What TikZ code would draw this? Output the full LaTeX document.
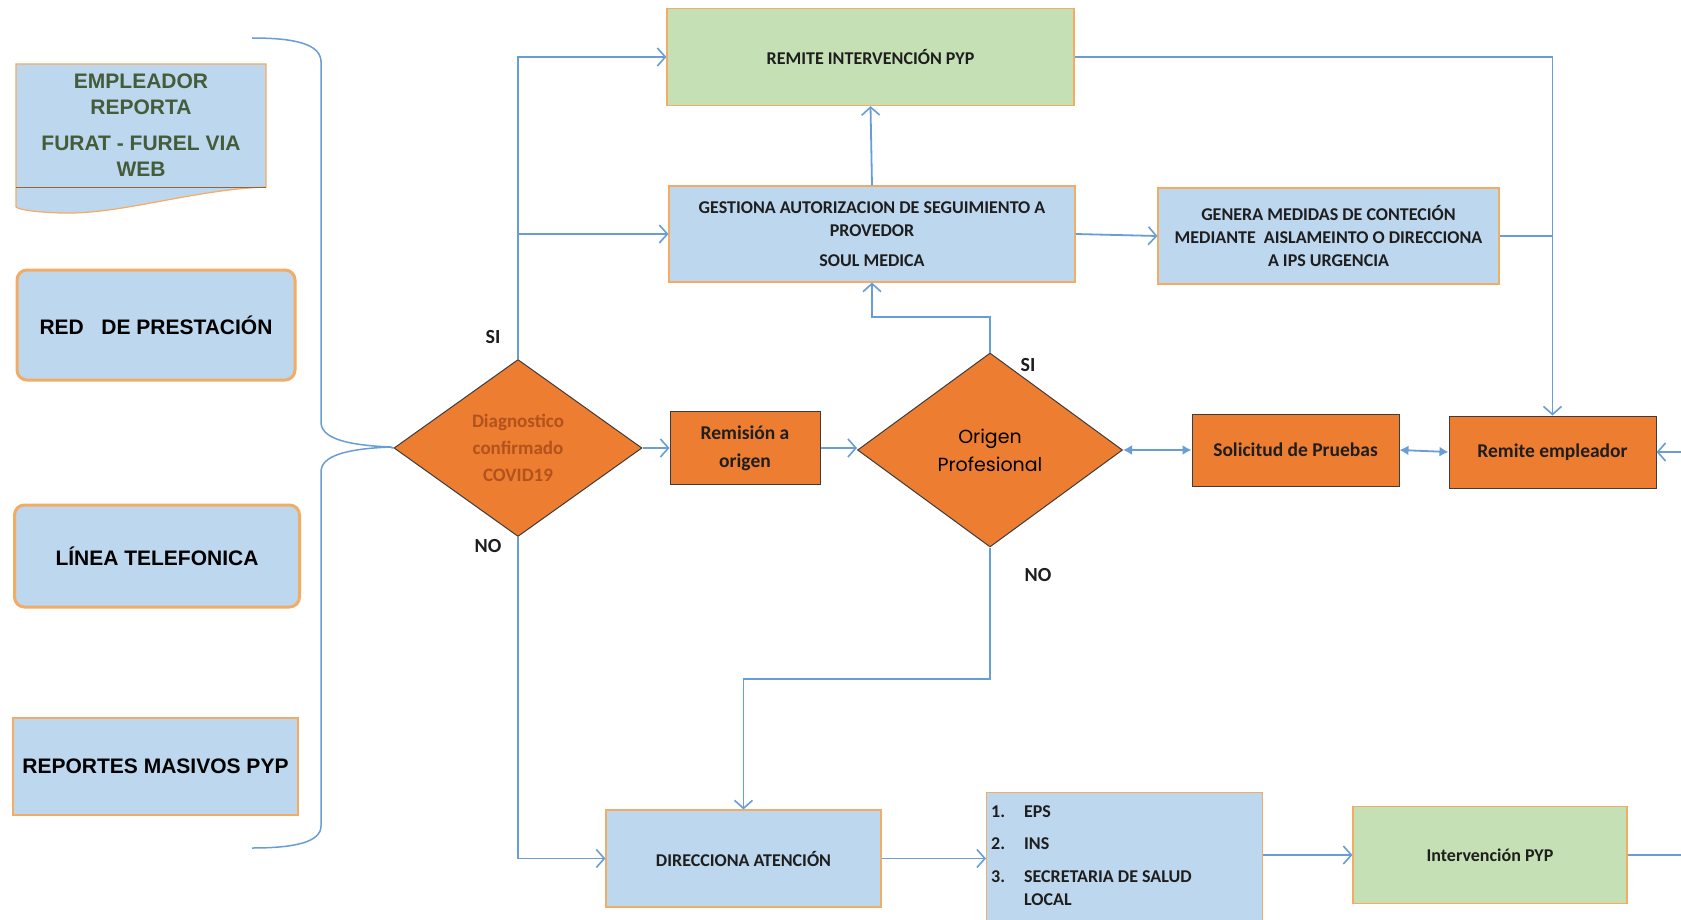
\documentclass[tikz,border=0pt]{standalone}
\usepackage{fontspec}
\setmainfont{Carlito}
\newfontfamily\arialf{Liberation Sans}
\newfontfamily\gothf{Poppins}
\usetikzlibrary{arrows.meta,shapes.geometric,calc}
\definecolor{lineblue}{RGB}{104,157,214}
\definecolor{boxblue}{RGB}{189,215,238}
\definecolor{boxgreen}{RGB}{197,224,180}
\definecolor{boxorange}{RGB}{237,125,49}
\definecolor{edgeorange}{RGB}{243,172,100}
\definecolor{darkedge}{RGB}{60,60,60}
\definecolor{olivetext}{RGB}{68,92,58}
\definecolor{diagtext}{RGB}{178,82,28}
\definecolor{txt}{RGB}{30,30,30}
\begin{document}
\begin{tikzpicture}[x=1pt,y=-1pt,
 conn/.style={draw=lineblue,line width=1.8pt},
 arr/.style={conn,-{Straight Barb[length=8pt,width=18pt,line width=1.6pt]}},
 dbl/.style={conn,{Latex[length=9pt,width=10pt]}-{Latex[length=9pt,width=10pt]}},
 bluebox/.style={draw=edgeorange,line width=1.2pt,fill=boxblue,inner sep=0pt,align=center,text=txt,font=\bfseries\fontsize{18}{23}\selectfont},
 greenbox/.style={bluebox,fill=boxgreen},
 orangebox/.style={draw=darkedge,line width=1pt,fill=boxorange,inner sep=0pt,align=center,text=txt,font=\bfseries\fontsize{19.5}{28}\selectfont},
 decision/.style={diamond,draw=darkedge,line width=1pt,fill=boxorange,inner sep=0pt,align=center},
 leftbox/.style={draw=edgeorange,fill=boxblue,inner sep=0pt,align=center,text=black,font=\arialf\bfseries\fontsize{21}{24}\selectfont},
 lab/.style={font=\bfseries\fontsize{20}{22}\selectfont,text=txt,inner sep=0pt}
]
\useasboundingbox (0,0) rectangle (1681,920);
\clip (0,0) rectangle (1681,920);
\fill[white] (0,0) rectangle (1681,920);

% document shape
\filldraw[fill=boxblue,draw=edgeorange,line width=1.2pt] (16,64) -- (266,64) -- (266,187) .. controls (190,190) and (120,215) .. (60,213) .. controls (35,212) and (20,210) .. (16,207) -- cycle;
\draw[draw=edgeorange!60!black,line width=0.8pt] (16,187) -- (266,187);
\node[align=center,text=olivetext,font=\arialf\bfseries\fontsize{21}{26.5}\selectfont,inner sep=0pt] (emp) at (141,125) {EMPLEADOR\\REPORTA\\[9pt]FURAT - FUREL VIA\\WEB};

\node[leftbox,rounded corners=10pt,line width=3pt,minimum width=278pt,minimum height=110pt] (red) at (156,325) {RED\ \ \ DE PRESTACIÓN};
\node[leftbox,rounded corners=10pt,line width=3pt,minimum width=285pt,minimum height=102pt] (lin) at (157,556) {LÍNEA TELEFONICA};
\node[leftbox,line width=1.2pt,minimum width=285pt,minimum height=97pt] (rep) at (155.5,766.5) {REPORTES MASIVOS PYP};

% brace
\coordinate (tip) at (390,447);
\draw[conn,line width=1.5pt] (252,38) .. controls (295,38) and (321,44) .. (321,62) -- (321,422) .. controls (321,438) and (345,445) .. (tip) .. controls (345,449) and (321,456) .. (321,472) -- (321,826) .. controls (321,842) and (295,848) .. (252,848);

% decisions
\node[decision,minimum width=248pt,minimum height=177pt,text=diagtext,font=\bfseries\fontsize{19}{27}\selectfont] (d1) at (518,448) {Diagnostico\\confirmado\\COVID19};
\node[decision,minimum width=265pt,minimum height=194pt,text=black,font=\gothf\fontsize{19}{28}\selectfont] (orig) at (990,450) {Origen\\Profesional};

% orange boxes
\node[orangebox,minimum width=150pt,minimum height=73pt] (rem) at (745,448) {Remisión a\\origen};
\node[orangebox,minimum width=207pt,minimum height=72pt] (solic) at (1295.5,450) {Solicitud de Pruebas};
\node[orangebox,minimum width=207pt,minimum height=72pt] (remp) at (1552.5,452) {Remite empleador};

% blue / green boxes
\node[greenbox,minimum width=407pt,minimum height=97pt] (remint) at (870.5,57) {REMITE INTERVENCIÓN PYP};
\node[bluebox,minimum width=406pt,minimum height=96pt] (gest) at (872,234) {GESTIONA AUTORIZACION DE SEGUIMIENTO A\\PROVEDOR\\[7pt]SOUL MEDICA};
\node[bluebox,minimum width=341pt,minimum height=96pt] (gen) at (1328.5,236) {GENERA MEDIDAS DE CONTECIÓN\\MEDIANTE\ \ AISLAMEINTO O DIRECCIONA\\A IPS URGENCIA};
\node[bluebox,minimum width=275pt,minimum height=97pt] (direc) at (743.5,858.5) {DIRECCIONA ATENCIÓN};
\node[bluebox,minimum width=276pt,minimum height=160pt,anchor=north west] (lista) at (986,792) {};
\node[anchor=north west,inner sep=0pt,font=\bfseries\fontsize{18}{23}\selectfont,text=txt,align=left] (listtxt) at (991,801) {\begin{tabular}{@{}l@{\hspace{19pt}}l@{}}1. & EPS\\[9pt] 2. & INS\\[10pt] 3. & SECRETARIA DE SALUD\\ & LOCAL\end{tabular}};
\node[greenbox,minimum width=274pt,minimum height=97pt] (interv) at (1490,855) {Intervención PYP};

% labels
\node[lab] (si1) at (493,337) {SI};
\node[lab] (no1) at (488,546) {NO};
\node[lab] (si2) at (1028,365) {SI};
\node[lab] (no2) at (1038,575) {NO};

% connectors
\draw[conn] (tip) -- (d1.west);
\draw[arr] (d1.north) |- (remint.west);
\draw[arr] (d1.north |- gest.west) -- (gest.west);
\draw[arr] (d1.east) -- (rem.west);
\draw[arr] (rem.east) -- (rem.east -| orig.west);
\draw[arr] (orig.north) -- (orig.north |- 0,317) -| (gest.south);
\draw[arr] (gest.north) -- (remint.south);
\draw[arr] (gest.east) -- (gen.west);
\draw[arr] (remint.east) -| (remp.north);
\draw[conn] (gen.east) -- (gen.east -| remp.north);
\draw[dbl] (orig.east) -- (solic.west);
\draw[dbl] (solic.east) -- (remp.west);
\coordinate (rin) at (1681,452);
\draw[arr] (rin) -- (remp.east);
\draw[arr] (d1.south) |- (direc.west);
\draw[arr] (orig.south) -- (orig.south |- 0,679) -| (direc.north);
\draw[arr] (direc.east) -- (direc.east -| lista.west);
\draw[arr] (interv.west -| lista.east) -- (interv.west);
\coordinate (rout) at (1681,855);
\draw[conn] (interv.east) -- (rout);
\end{tikzpicture}
\end{document}
